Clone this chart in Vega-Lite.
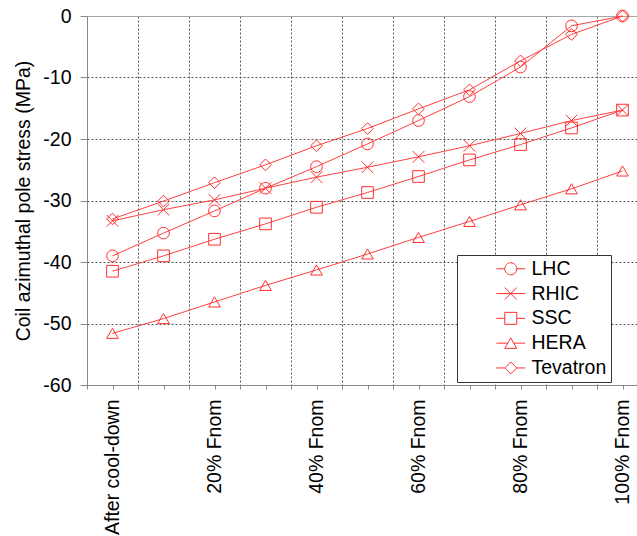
{
  "$schema": "https://vega.github.io/schema/vega-lite/v6.json",
  "width": 550,
  "height": 369,
  "autosize": {"type": "none"},
  "padding": {"left": 87, "top": 16, "right": 0, "bottom": 151},
  "background": "white",
  "config": {"font": "Liberation Sans", "view": {"stroke": null}},
  "data": {
    "values": [
      {"series": "LHC", "pct": 0, "stress": -39.0},
      {"series": "LHC", "pct": 10, "stress": -35.3},
      {"series": "LHC", "pct": 20, "stress": -31.7},
      {"series": "LHC", "pct": 30, "stress": -28.0},
      {"series": "LHC", "pct": 40, "stress": -24.5},
      {"series": "LHC", "pct": 50, "stress": -20.8},
      {"series": "LHC", "pct": 60, "stress": -17.0},
      {"series": "LHC", "pct": 70, "stress": -13.1},
      {"series": "LHC", "pct": 80, "stress": -8.3},
      {"series": "LHC", "pct": 90, "stress": -1.6},
      {"series": "LHC", "pct": 100, "stress": 0.0},
      {"series": "RHIC", "pct": 0, "stress": -33.3},
      {"series": "RHIC", "pct": 10, "stress": -31.5},
      {"series": "RHIC", "pct": 20, "stress": -29.9},
      {"series": "RHIC", "pct": 30, "stress": -28.0},
      {"series": "RHIC", "pct": 40, "stress": -26.2},
      {"series": "RHIC", "pct": 50, "stress": -24.6},
      {"series": "RHIC", "pct": 60, "stress": -22.9},
      {"series": "RHIC", "pct": 70, "stress": -21.1},
      {"series": "RHIC", "pct": 80, "stress": -19.1},
      {"series": "RHIC", "pct": 90, "stress": -17.0},
      {"series": "RHIC", "pct": 100, "stress": -15.3},
      {"series": "SSC", "pct": 0, "stress": -41.5},
      {"series": "SSC", "pct": 10, "stress": -39.0},
      {"series": "SSC", "pct": 20, "stress": -36.3},
      {"series": "SSC", "pct": 30, "stress": -33.8},
      {"series": "SSC", "pct": 40, "stress": -31.1},
      {"series": "SSC", "pct": 50, "stress": -28.7},
      {"series": "SSC", "pct": 60, "stress": -26.1},
      {"series": "SSC", "pct": 70, "stress": -23.4},
      {"series": "SSC", "pct": 80, "stress": -20.9},
      {"series": "SSC", "pct": 90, "stress": -18.2},
      {"series": "SSC", "pct": 100, "stress": -15.3},
      {"series": "HERA", "pct": 0, "stress": -51.6},
      {"series": "HERA", "pct": 10, "stress": -49.2},
      {"series": "HERA", "pct": 20, "stress": -46.5},
      {"series": "HERA", "pct": 30, "stress": -43.8},
      {"series": "HERA", "pct": 40, "stress": -41.3},
      {"series": "HERA", "pct": 50, "stress": -38.7},
      {"series": "HERA", "pct": 60, "stress": -36.0},
      {"series": "HERA", "pct": 70, "stress": -33.4},
      {"series": "HERA", "pct": 80, "stress": -30.7},
      {"series": "HERA", "pct": 90, "stress": -28.1},
      {"series": "HERA", "pct": 100, "stress": -25.2},
      {"series": "Tevatron", "pct": 0, "stress": -33.0},
      {"series": "Tevatron", "pct": 10, "stress": -30.1},
      {"series": "Tevatron", "pct": 20, "stress": -27.1},
      {"series": "Tevatron", "pct": 30, "stress": -24.2},
      {"series": "Tevatron", "pct": 40, "stress": -21.1},
      {"series": "Tevatron", "pct": 50, "stress": -18.3},
      {"series": "Tevatron", "pct": 60, "stress": -15.1},
      {"series": "Tevatron", "pct": 70, "stress": -12.0},
      {"series": "Tevatron", "pct": 80, "stress": -7.3},
      {"series": "Tevatron", "pct": 90, "stress": -3.0},
      {"series": "Tevatron", "pct": 100, "stress": 0.0}
    ]
  },
  "encoding": {
    "x": {
      "field": "pct",
      "type": "quantitative",
      "scale": {"domain": [-5, 102.84], "nice": false, "zero": false},
      "axis": {
        "values": [-5, 0, 5, 10, 15, 20, 25, 30, 35, 40, 45, 50, 55, 60, 65, 70, 75, 80, 85, 90, 95, 100],
        "title": null,
        "grid": true,
        "gridColor": "#555555",
        "gridDash": [2, 2],
        "gridOpacity": {"condition": {"test": "datum.value % 10 != 0 && datum.value > -5", "value": 1}, "value": 0},
        "tickSize": 4,
        "tickColor": "#888888",
        "domainColor": "#888888",
        "labelExpr": "datum.value == 0 ? 'After cool-down' : (datum.value > 0 && datum.value % 20 == 0 ? datum.value + '% Fnom' : '')",
        "labelAngle": -90,
        "labelPadding": 10,
        "labelFontSize": 19.5,
        "labelColor": "black",
        "labelOverlap": false,
        "labelBound": false,
        "labelFlush": false
      }
    },
    "y": {
      "field": "stress",
      "type": "quantitative",
      "scale": {"domain": [-60, 0], "nice": false},
      "axis": {
        "values": [-60, -50, -40, -30, -20, -10, 0],
        "grid": true,
        "gridColor": {"condition": {"test": "datum.value == 0", "value": "#a6a6a6"}, "value": "#555555"},
        "gridDash": {"condition": {"test": "datum.value == 0", "value": []}, "value": [2, 2]},
        "tickSize": 7,
        "tickColor": "#888888",
        "domainColor": "#888888",
        "labelExpr": "datum.value == 0 ? '0' : '-' + abs(datum.value)",
        "labelFontSize": 19.5,
        "labelPadding": 9,
        "labelColor": "black",
        "title": "Coil azimuthal pole stress (MPa)",
        "titleFontSize": 19.5,
        "titleFontWeight": "normal",
        "titleColor": "black",
        "titlePadding": 9
      }
    }
  },
  "layer": [
    {
      "mark": {"type": "line", "color": "#ff4040", "strokeWidth": 1},
      "encoding": {"detail": {"field": "series"}}
    },
    {
      "mark": {"type": "point", "filled": false, "color": "#ff3030", "strokeWidth": 1, "size": 136, "opacity": 1},
      "encoding": {
        "shape": {
          "field": "series",
          "type": "nominal",
          "scale": {
            "domain": ["LHC", "RHIC", "SSC", "HERA", "Tevatron"],
            "range": ["circle", "M-1,-1L1,1M-1,1L1,-1", "square", "triangle-up", "diamond"]
          },
          "legend": null
        }
      }
    },
    {
      "transform": [{"filter": "false"}],
      "mark": {"type": "point", "filled": false, "color": "#ff3030", "strokeWidth": 1, "size": 136, "opacity": 1},
      "encoding": {
        "shape": {
          "field": "series",
          "type": "nominal",
          "scale": {
            "domain": ["LHC", "RHIC", "SSC", "HERA", "Tevatron"],
            "range": [
              "M-2.4,0H-1M1,0H2.4M1,0A1,1,0,1,1,-1,0A1,1,0,1,1,1,0",
              "M-2.4,0H2.4M-1,-1L1,1M-1,1L1,-1",
              "M-2.4,0H-1M1,0H2.4M-1,-1H1V1H-1Z",
              "M-2.4,0H-0.5M0.5,0H2.4M0,-0.87L1,0.87L-1,0.87Z",
              "M-2.4,0H-1M1,0H2.4M0,-1L1,0L0,1L-1,0Z"
            ]
          },
          "legend": {
            "orient": "none",
            "legendX": 370,
            "legendY": 239,
            "title": null,
            "fillColor": "white",
            "strokeColor": "#333333",
            "padding": 4,
            "symbolOffset": 40,
            "symbolSize": 144,
            "symbolStrokeWidth": 1,
            "symbolStrokeColor": "#ff3030",
            "symbolFillColor": "transparent",
            "symbolOpacity": 1,
            "labelFontSize": 19.5,
            "labelColor": "black",
            "labelOffset": 11,
            "rowPadding": 3.8
          }
        }
      }
    }
  ],
  "resolve": {"scale": {"shape": "independent"}}
}
